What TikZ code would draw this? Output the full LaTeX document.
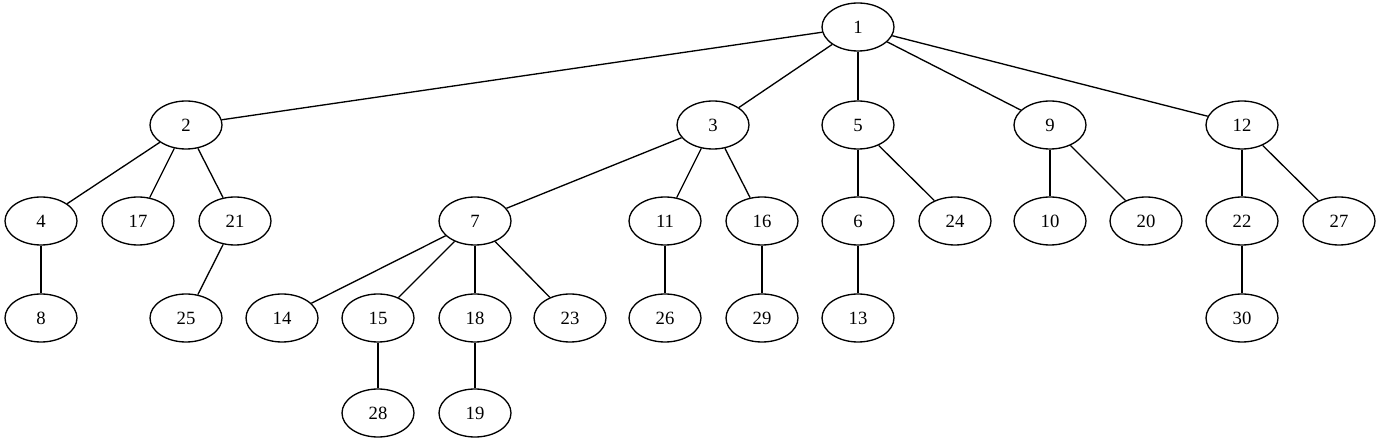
\documentclass[tikz,border=0pt]{standalone}
\usepackage{fontspec}
\setmainfont{Liberation Serif}
\usetikzlibrary{shapes.geometric}

\tikzset{
  vertex/.style={draw, ellipse, line width=1.33pt, inner sep=0pt,
    minimum width=72pt, minimum height=48pt,
    font=\fontsize{18.7}{22}\selectfont},
  edge/.style={line width=1.33pt}
}

\begin{document}
\begin{tikzpicture}[x=1pt, y=-1pt]
  \useasboundingbox (0,0) rectangle (1379,443);

  % level 0 and 1
  \node[vertex] (n1) at (858,27) {1};
  \node[vertex] (n2) at (186,125) {2};
  \node[vertex] (n3) at (713,125) {3};
  \node[vertex] (n5) at (858,125) {5};
  \node[vertex] (n9) at (1050,125) {9};
  \node[vertex] (n12) at (1242,125) {12};

  % level 2
  \node[vertex] (n4) at (41,221) {4};
  \node[vertex] (n17) at (138,221) {17};
  \node[vertex] (n21) at (235,221) {21};
  \node[vertex] (n7) at (475,221) {7};
  \node[vertex] (n11) at (665,221) {11};
  \node[vertex] (n16) at (762,221) {16};
  \node[vertex] (n6) at (858,221) {6};
  \node[vertex] (n24) at (955,221) {24};
  \node[vertex] (n10) at (1050,221) {10};
  \node[vertex] (n20) at (1146,221) {20};
  \node[vertex] (n22) at (1242,221) {22};
  \node[vertex] (n27) at (1339,221) {27};

  % level 3
  \node[vertex] (n8) at (41,318) {8};
  \node[vertex] (n25) at (186,318) {25};
  \node[vertex] (n14) at (282,318) {14};
  \node[vertex] (n15) at (378,318) {15};
  \node[vertex] (n18) at (475,318) {18};
  \node[vertex] (n23) at (570,318) {23};
  \node[vertex] (n26) at (665,318) {26};
  \node[vertex] (n29) at (762,318) {29};
  \node[vertex] (n13) at (858,318) {13};
  \node[vertex] (n30) at (1242,318) {30};

  % level 4
  \node[vertex] (n28) at (378,413) {28};
  \node[vertex] (n19) at (475,413) {19};

  % edges
  \foreach \a/\b in {n1/n2, n1/n3, n1/n5, n1/n9, n1/n12,
                     n2/n4, n2/n17, n2/n21, n4/n8, n21/n25,
                     n3/n7, n3/n11, n3/n16,
                     n7/n14, n7/n15, n7/n18, n7/n23,
                     n15/n28, n18/n19, n11/n26, n16/n29,
                     n5/n6, n5/n24, n6/n13,
                     n9/n10, n9/n20,
                     n12/n22, n12/n27, n22/n30}
    \draw[edge] (\a) -- (\b);
\end{tikzpicture}
\end{document}
